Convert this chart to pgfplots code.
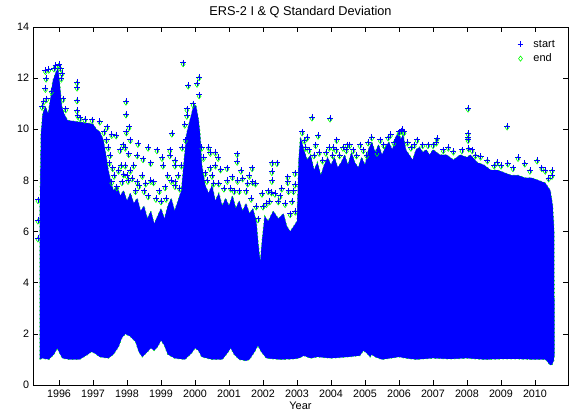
\documentclass[border=0pt]{standalone}
\usepackage{pgfplots}
\usepackage{pgfplotstable}
\pgfplotsset{compat=1.18}
\usepackage{fontspec}
\setmainfont{Liberation Sans}
\definecolor{mblue}{RGB}{0,0,255}
\definecolor{mgreen}{RGB}{0,255,0}

\pgfplotstableread{
x y
1995.44 1.0
1995.44 7.0
1995.47 9.8
1995.52 10.6
1995.6 10.9
1995.68 10.6
1995.75 11.2
1995.82 11.9
1995.9 12.2
1995.97 12.4
1996.02 11.8
1996.08 10.9
1996.15 10.6
1996.25 10.35
1996.5 10.3
1996.8 10.25
1997.0 10.2
1997.1 10.0
1997.2 9.9
1997.3 9.6
1997.38 9.0
1997.45 8.4
1997.52 8.0
1997.6 7.6
1997.7 7.8
1997.8 7.4
1997.9 7.6
1998.0 7.2
1998.1 7.5
1998.2 7.1
1998.3 7.3
1998.4 6.8
1998.5 7.0
1998.6 6.5
1998.7 6.8
1998.8 6.3
1998.9 6.6
1999.0 6.9
1999.1 6.5
1999.2 7.0
1999.3 7.3
1999.4 6.8
1999.5 7.2
1999.6 7.6
1999.68 8.8
1999.75 9.8
1999.82 10.2
1999.9 10.6
1999.97 11.0
2000.03 10.9
2000.1 10.4
2000.15 9.8
2000.2 8.6
2000.3 7.8
2000.4 7.5
2000.5 7.8
2000.6 7.2
2000.7 7.5
2000.8 7.0
2000.9 7.3
2001.0 7.0
2001.1 7.4
2001.2 6.9
2001.3 7.2
2001.4 6.8
2001.5 7.1
2001.6 6.7
2001.7 6.9
2001.8 6.4
2001.86 5.5
2001.92 4.8
2001.97 5.6
2002.05 6.6
2002.15 6.4
2002.3 6.8
2002.45 6.5
2002.6 6.7
2002.7 6.2
2002.8 6.0
2002.9 6.2
2003.0 6.4
2003.05 8.8
2003.1 9.7
2003.2 9.2
2003.3 8.8
2003.4 9.0
2003.5 8.4
2003.6 8.7
2003.7 8.2
2003.8 8.6
2003.9 8.9
2004.0 8.6
2004.1 8.9
2004.2 8.5
2004.3 8.7
2004.4 9.0
2004.5 8.6
2004.6 9.1
2004.7 8.7
2004.8 8.5
2004.9 8.9
2005.0 8.6
2005.1 9.2
2005.2 9.5
2005.3 9.1
2005.4 9.4
2005.5 9.0
2005.6 9.3
2005.7 9.5
2005.8 9.2
2005.9 9.7
2006.0 9.9
2006.05 9.6
2006.12 9.8
2006.2 9.2
2006.3 9.0
2006.4 8.8
2006.5 9.2
2006.6 9.3
2006.7 9.1
2006.8 9.2
2006.9 9.0
2007.0 9.2
2007.2 9.0
2007.4 9.0
2007.6 8.8
2007.8 9.0
2008.0 8.9
2008.1 9.0
2008.3 8.7
2008.5 8.6
2008.7 8.4
2008.9 8.4
2009.1 8.3
2009.3 8.2
2009.5 8.2
2009.7 8.1
2009.9 8.1
2010.1 8.0
2010.3 7.9
2010.45 7.6
2010.52 7.0
2010.56 6.0
2010.57 1.2
2010.55 0.95
2010.5 0.8
2010.45 0.78
2010.4 0.85
2010.35 0.95
2010.3 1.0
2010.0 1.0
2009.5 1.02
2009.0 1.02
2008.5 1.0
2008.0 1.05
2007.5 1.02
2007.0 1.05
2006.5 1.0
2006.2 1.05
2006.0 1.1
2005.5 1.0
2005.3 1.1
2005.2 1.2
2005.15 1.1
2005.05 1.25
2004.95 1.35
2004.85 1.15
2004.5 1.1
2004.0 1.05
2003.6 1.1
2003.4 1.05
2003.2 1.15
2003.05 1.05
2002.9 1.02
2002.5 1.0
2002.1 1.05
2001.95 1.3
2001.85 1.55
2001.75 1.3
2001.6 1.0
2001.5 0.95
2001.3 1.0
2001.15 1.2
2001.05 1.45
2000.95 1.25
2000.8 1.0
2000.5 1.0
2000.2 1.1
2000.1 1.35
2000.0 1.45
1999.9 1.25
1999.7 1.0
1999.4 1.05
1999.2 1.2
1999.1 1.55
1999.0 1.75
1998.9 1.5
1998.8 1.35
1998.7 1.45
1998.6 1.3
1998.45 1.1
1998.35 1.3
1998.25 1.7
1998.1 1.9
1997.95 2.0
1997.85 1.85
1997.75 1.5
1997.6 1.2
1997.45 1.05
1997.2 1.1
1997.05 1.25
1996.95 1.3
1996.85 1.2
1996.6 1.0
1996.3 1.0
1996.1 1.05
1996.0 1.3
1995.95 1.45
1995.85 1.2
1995.7 1.0
1995.5 1.05
}\envelope

\pgfplotstableread{
x y
1995.38 7.25
1995.38 6.45
1995.38 5.75
1995.6 12.3
1995.62 12.0
1995.6 11.6
1995.64 11.2
1995.7 12.35
1995.85 12.4
1995.9 12.5
1996.0 12.55
1996.05 12.4
1996.09 12.2
1996.07 12.0
1995.5 10.9
1995.55 11.1
1995.78 11.5
1996.12 11.2
1996.2 10.8
1996.53 11.85
1996.53 11.65
1996.53 11.15
1996.53 10.75
1996.55 10.55
1996.62 10.45
1996.76 10.4
1996.97 10.38
1997.2 10.32
1997.41 10.1
1997.32 9.9
1997.4 9.6
1997.55 9.8
1997.68 9.78
1997.97 11.1
1997.97 10.6
1998.06 10.1
1997.98 9.9
1998.1 9.6
1997.79 9.2
1997.88 9.4
1997.95 9.3
1998.05 9.05
1998.32 9.45
1998.62 9.3
1998.88 9.2
1999.03 8.9
1998.47 8.85
1998.7 8.7
1998.3 9.0
1998.0 8.2
1998.03 8.0
1997.9 8.25
1997.55 7.95
1997.7 7.75
1997.85 7.95
1998.3 7.95
1998.35 7.8
1998.7 8.0
1998.78 7.95
1999.12 7.75
1999.32 9.85
1999.26 9.2
1999.26 9.0
1999.06 8.6
1999.41 8.8
1999.41 8.6
1999.41 7.95
1999.41 7.8
1997.45 9.3
1997.5 9.0
1997.48 8.7
1997.58 8.5
1997.62 8.2
1997.75 8.4
1997.82 8.6
1997.95 8.6
1998.1 8.4
1998.15 8.1
1998.2 8.6
1998.25 7.6
1998.45 8.2
1998.5 7.6
1998.55 7.9
1998.62 7.4
1998.85 7.3
1998.95 7.6
1999.0 7.2
1999.15 7.3
1999.2 8.2
1999.3 8.0
1999.5 8.2
1999.55 7.7
1999.6 8.6
1999.62 9.3
1999.7 10.2
1999.72 9.6
1999.65 12.6
2000.12 12.05
2000.06 11.8
1999.8 11.73
2000.12 11.35
1999.94 11.0
1999.76 10.8
1999.76 10.55
2000.2 9.3
2000.25 8.9
2000.3 8.3
2000.35 8.0
2000.5 8.2
2000.55 7.9
2000.7 7.9
2000.85 7.7
2000.95 8.0
2001.05 7.7
2001.15 7.6
2001.3 7.6
2001.35 8.4
2001.5 7.6
2001.55 7.9
2001.6 8.2
2001.65 7.3
2001.8 7.0
2001.85 6.5
2002.0 7.0
2002.1 7.1
2002.2 7.2
2002.45 7.2
2002.5 7.4
2002.65 7.1
2002.8 6.7
2002.85 7.2
2002.95 6.8
2000.4 9.3
2000.45 9.1
2000.6 9.1
2000.68 8.9
2000.44 8.5
2000.6 8.6
2000.75 8.45
2000.94 8.5
2001.1 8.15
2001.25 8.0
2001.4 8.1
2001.24 9.05
2001.24 8.75
2001.68 8.5
2001.7 7.95
2001.78 7.9
2002.26 8.7
2002.26 8.35
2002.26 8.0
2002.41 8.7
2002.94 8.3
2002.73 8.15
2002.73 7.95
2002.94 7.85
2001.97 7.5
2002.15 7.6
2002.25 7.55
2002.35 7.5
2002.55 7.7
2002.75 7.6
2002.9 7.6
2003.44 10.48
2003.97 10.44
2003.62 9.77
2003.3 9.7
2003.22 9.58
2003.15 9.9
2003.25 9.3
2003.35 9.2
2003.5 9.0
2003.55 9.4
2003.65 9.1
2003.75 8.8
2003.85 9.1
2003.95 9.3
2004.05 9.0
2004.15 9.2
2004.25 9.0
2004.35 9.3
2004.45 9.2
2004.55 9.4
2004.65 9.2
2004.75 9.0
2004.95 9.2
2005.05 9.0
2005.2 9.7
2005.45 9.6
2005.55 9.4
2005.75 9.8
2005.85 9.5
2006.1 10.0
2006.15 9.9
2006.25 9.5
2006.35 9.3
2006.45 9.4
2006.7 9.4
2006.85 9.4
2007.0 9.4
2007.3 9.2
2007.45 9.3
2004.17 9.6
2004.06 9.3
2004.47 9.4
2004.85 9.4
2005.09 9.5
2005.35 9.1
2005.68 9.7
2006.0 9.9
2006.06 9.95
2006.53 9.6
2007.12 9.65
2007.1 9.5
2007.6 9.15
2007.85 9.2
2008.03 10.83
2008.03 9.85
2008.03 9.7
2008.03 9.6
2008.05 9.27
2008.15 9.2
2008.25 9.0
2008.4 8.95
2008.6 8.8
2008.8 8.6
2009.0 8.6
2009.35 8.5
2009.85 8.4
2010.4 8.1
2009.18 10.13
2009.5 8.9
2009.2 8.68
2009.7 8.68
2010.06 8.8
2008.88 8.72
2010.5 8.4
2010.5 8.2
2010.2 8.5
2010.3 8.4
}\outliers

\begin{document}
\fontsize{10.8}{13}\selectfont
\begin{tikzpicture}
\path[use as bounding box] (-33bp,-31bp) rectangle (537bp,385bp);
\begin{axis}[
  at={(0,0)}, anchor=south west,
  scale only axis, width=535bp, height=358bp,
  xmin=1995.235, xmax=2010.97, ymin=0, ymax=14,
  xtick={1996,1997,...,2010}, ytick={0,2,...,14},
  tick align=inside, major tick length=5bp,
  tick style={black, line width=0.5pt},
  axis line style={line width=0.6pt},
  /pgf/number format/assume math mode=true,
  /pgf/number format/1000 sep={},
  xticklabel style={yshift=-1bp},
  title={ERS-2 I \& Q Standard Deviation},
  title style={font=\fontsize{12.8}{15}\selectfont, yshift=-1bp},
  xlabel={Year},
  xlabel style={font=\fontsize{11}{13}\selectfont, yshift=3bp},
  legend style={draw=none, fill=none, at={(0.985,0.975)}, anchor=north east,
    font=\fontsize{11}{13}\selectfont, row sep=1bp,
    /tikz/every odd column/.style={column sep=8bp}},
  legend cell align=left,
]
\addlegendimage{only marks, mark=+, mblue, mark size=3pt, line width=0.7pt}
\addlegendimage{only marks, mark=diamond, mgreen, mark size=2.6pt, line width=0.6pt}
\addplot[draw=mgreen, line width=1.1pt, dash pattern=on 1.5bp off 2.5bp, fill=mblue, forget plot] table {\envelope} -- cycle;
\addplot[draw=none, fill=mblue, forget plot] table {\envelope} -- cycle;
\addplot[only marks, mark=diamond, mgreen, mark size=2.6pt, line width=0.6pt,
  every mark/.append style={yshift=-1.5bp}, forget plot] table {\outliers};
\addplot[only marks, mark=+, mblue, mark size=3pt, line width=0.7pt, forget plot] table {\outliers};
\legend{start,end}
\end{axis}
\end{tikzpicture}
\end{document}
